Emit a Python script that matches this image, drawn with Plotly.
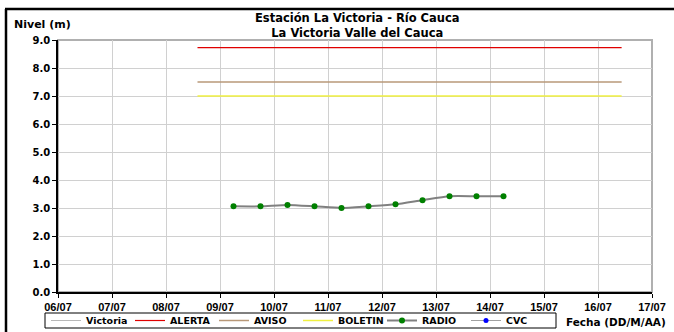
import plotly.graph_objects as go

# ---- data ----
radio_times = ["2011-07-09 06:00", "2011-07-09 18:00", "2011-07-10 06:00", "2011-07-10 18:00",
               "2011-07-11 06:00", "2011-07-11 18:00", "2011-07-12 06:00", "2011-07-12 18:00",
               "2011-07-13 06:00", "2011-07-13 18:00", "2011-07-14 06:00"]
radio_values = [3.06, 3.06, 3.11, 3.06, 3.00, 3.06, 3.13, 3.28, 3.42, 3.42, 3.42]

threshold_times = ["2011-07-08 14:00", "2011-07-16 10:30"]
alerta_level = [8.73, 8.73]
aviso_level = [7.5, 7.5]
boletin_level = [7.0, 7.0]

x_range = ["2011-07-06 00:00", "2011-07-17 00:00"]
title_lines = ["Estación La Victoria - Río Cauca", "La Victoria Valle del Cauca"]

WIDE = "DejaVu Sans, Verdana, sans-serif"
ARIAL = "Liberation Sans, Arial, sans-serif"

fig = go.Figure()
fig.add_trace(go.Scatter(x=[None], y=[None], name="Victoria", mode="lines",
                         line=dict(color="#B8B8B8", width=1)))
fig.add_trace(go.Scatter(x=threshold_times, y=alerta_level, name="ALERTA", mode="lines",
                         line=dict(color="#E00000", width=1.2)))
fig.add_trace(go.Scatter(x=threshold_times, y=aviso_level, name="AVISO", mode="lines",
                         line=dict(color="#B89878", width=1.5)))
fig.add_trace(go.Scatter(x=threshold_times, y=boletin_level, name="BOLETIN", mode="lines",
                         line=dict(color="#F0F040", width=1.5)))
fig.add_trace(go.Scatter(x=radio_times, y=radio_values, name="RADIO", mode="lines+markers",
                         line=dict(color="#808080", width=2, shape="spline", smoothing=0.6),
                         marker=dict(color="#008000", size=6)))
fig.add_trace(go.Scatter(x=[None], y=[None], name="CVC", mode="lines+markers",
                         line=dict(color="#A0A0A0", width=1),
                         marker=dict(color="#0000FF", size=5)))

L, R, T, B = 58, 22, 40, 40
W, H = 674, 332
pw, ph = W - L - R, H - T - B

def px(xp):
    return (xp - L) / pw

def py(yp):
    return (H - B - yp) / ph

fig.update_layout(
    width=W, height=H,
    margin=dict(l=L, r=R, t=T, b=B, autoexpand=False),
    paper_bgcolor="white", plot_bgcolor="white",
    font=dict(family=WIDE, size=10, color="black", weight="bold"),
    showlegend=True,
    legend=dict(orientation="h", x=px(46), y=py(306), xanchor="left", yanchor="top",
                borderwidth=0, bgcolor="rgba(0,0,0,0)",
                font=dict(size=9.5, family=WIDE, weight="bold"),
                entrywidth=39, entrywidthmode="pixels", itemwidth=30,
                tracegroupgap=0),
    xaxis=dict(type="date", range=x_range, dtick=86400000, tick0="2011-07-06",
               tickformat="%d/%m", showgrid=True, gridcolor="#D0D0D0", gridwidth=1,
               showline=True, linecolor="black", linewidth=1.5,
               ticks="outside", ticklen=4, tickcolor="black",
               tickfont=dict(size=11, family=ARIAL, weight="bold"), zeroline=False,
               fixedrange=True),
    yaxis=dict(range=[0, 9], dtick=1, tickformat=".1f", showgrid=True, gridcolor="#D0D0D0",
               gridwidth=1, showline=True, linecolor="black", linewidth=1.5,
               ticks="outside", ticklen=4, tickcolor="black",
               tickfont=dict(size=10, family=WIDE, weight="bold"), zeroline=False,
               fixedrange=True),
    shapes=[
        dict(type="rect", xref="paper", yref="paper", x0=0, y0=0, x1=1, y1=1,
             line=dict(color="#B0B0B0", width=2), layer="below"),
        dict(type="rect", xref="paper", yref="paper", x0=px(45), x1=px(556),
             y0=py(313), y1=py(328), line=dict(color="black", width=1)),
        dict(type="line", xref="paper", yref="paper", x0=px(6), x1=px(6), y0=py(9), y1=py(340),
             line=dict(color="black", width=2.5)),
        dict(type="line", xref="paper", yref="paper", x0=px(5), x1=px(680), y0=py(9), y1=py(9),
             line=dict(color="black", width=2.5)),
    ],
    annotations=[
        dict(text="<b>" + title_lines[0] + "</b><br><b>" + title_lines[1] + "</b>",
             xref="paper", yref="paper", x=px(357), y=py(9), xanchor="center", yanchor="top",
             showarrow=False, font=dict(size=11.5, family=WIDE)),
        dict(text="<b>Nivel (m)</b>", xref="paper", yref="paper", x=px(12), y=py(16),
             xanchor="left", yanchor="top", showarrow=False, font=dict(size=11, family=WIDE)),
        dict(text="<b>Fecha (DD/M/AA)</b>", xref="paper", yref="paper", x=px(564), y=py(314),
             xanchor="left", yanchor="top", showarrow=False, font=dict(size=10.5, family=WIDE)),
    ],
)

fig.write_html("out.html", config={"displayModeBar": False},
               post_script="document.body.style.margin='0';document.body.style.overflow='hidden';")
